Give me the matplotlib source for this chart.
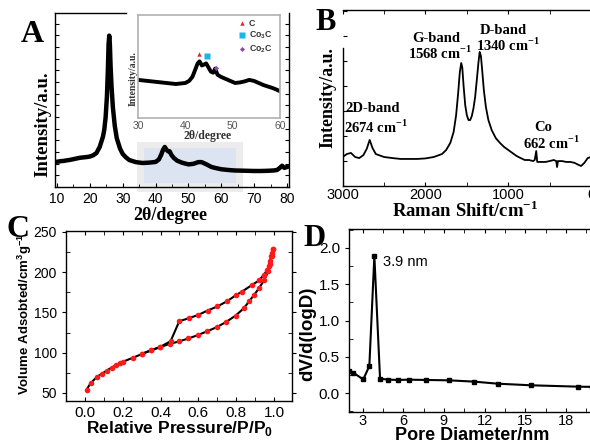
import matplotlib
matplotlib.use('Agg')
import matplotlib.pyplot as plt
import matplotlib.transforms as mtransforms
from matplotlib.patches import Rectangle
from matplotlib.ticker import MultipleLocator, NullFormatter

plt.rcParams['font.family'] = ['Liberation Sans', 'DejaVu Sans']
plt.rcParams['mathtext.fontset'] = 'custom'
plt.rcParams['mathtext.rm'] = 'Liberation Serif:bold'
plt.rcParams['mathtext.bf'] = 'Liberation Serif:bold'
plt.rcParams['mathtext.sf'] = 'Liberation Sans:bold'
plt.rcParams['axes.linewidth'] = 1.0

SERIF = 'Liberation Serif'
SANS = 'Liberation Sans'
W, H = 590, 442

# ---- A: XRD ----
xrd_2theta = [10, 11, 12, 13, 14, 15, 16, 17, 18, 19, 20, 21, 22, 23,
              23.5, 24, 24.4, 24.8, 25.2, 25.5, 25.7, 25.9, 26.1, 26.3, 26.6, 27.0, 27.6, 28.2, 28.7, 29.2,
              30, 31, 32, 34, 36, 38, 40,
              41, 41.7, 42.3, 42.8, 43.3, 43.8, 44.3, 44.8, 45.5, 46.5,
              48, 50, 51.5, 53, 54, 55.5, 57, 58.5, 60,
              62, 64, 66, 68, 70, 72, 74, 76,
              77, 77.8, 78.5, 79.2, 80]
xrd_int = [14.5, 14.8, 15.0, 15.3, 15.6, 16.0, 16.4, 16.8, 17.0, 17.2, 17.5, 18.2, 19.5, 23,
           26, 29, 33, 40, 52, 68, 82, 87, 82, 70, 58, 46, 35, 28, 25, 22,
           19, 17, 15.5, 14.3, 13.8, 14.0, 14.4,
           15.8, 18.5, 21.5, 23, 21.5, 20.5, 20.5, 18.5, 16.8, 15.2,
           14.0, 13.0, 13.3, 14.3, 14.3, 13.0, 11.5, 10.8, 10.2,
           9.8, 9.5, 9.4, 9.3, 9.2, 9.2, 9.3, 9.5,
           9.8, 11.0, 12.2, 11.0, 11.5]
zoom_outer = (34.3, 66.6)
zoom_inner = (36.5, 64.5)

ins_2theta = [30, 31, 32, 33, 34, 35, 36, 37, 38, 39, 40,
              40.8, 41.5, 42.1, 42.6, 43.0, 43.5, 44.0, 44.4, 44.9, 45.4, 45.9, 46.3, 46.8,
              47.5, 48.5, 49.5, 50.5, 51.5, 52.5, 53.5, 54.5, 55.5, 56.5, 57.5, 58.5, 59.3, 60]
ins_int = [37, 36.5, 36, 35.5, 35, 34.5, 34, 33.5, 33, 33.5, 34,
           36, 40, 47, 53, 55, 51, 52, 53, 49, 45, 44, 48, 42,
           40, 38, 36, 34, 34.5, 35.5, 37, 36, 34, 32, 30.5, 29, 27.5, 26]
phase_names = ['C', 'Co$_{\\mathsf{3}}$C', 'Co$_{\\mathsf{2}}$C']
phase_2theta = [42.9, 44.5, 46.4]
phase_int = [61.8, 60.2, 48.2]
phase_marker = ['^', 's', 'D']
phase_color = ['#e3262e', '#19b4ea', '#8a4fa8']
phase_size = [3.2, 4.2, 2.6]

# ---- B: Raman ----
raman_shift = [3000, 2950, 2900, 2850, 2800, 2750, 2710, 2674, 2640, 2600,
               2500, 2400, 2300, 2200, 2100, 2000, 1900, 1800, 1750, 1700,
               1660, 1630, 1605, 1585, 1568, 1555, 1540, 1520, 1500, 1480,
               1460, 1440, 1420, 1400, 1380, 1360, 1345, 1330, 1315, 1295,
               1270, 1240, 1200, 1150, 1100, 1050, 1000, 950, 900, 850,
               800, 750, 700, 680, 662, 650, 600, 550, 500, 450,
               420, 410, 400, 350, 300, 250, 200, 150, 120, 80, 40, 0]
raman_int = [16.3, 18, 18.6, 16.3, 15.7, 17.4, 20.9, 26, 21.4, 18,
             16.3, 15.7, 15.2, 15.2, 15.2, 15.5, 16.3, 18, 20.3, 24.3,
             30.5, 40, 52.7, 64.6, 69.7, 67, 57, 45.8, 40, 37.3,
             37.3, 39.6, 44, 50.4, 60, 70, 76, 73.7, 65.7, 54.4,
             44.7, 37.3, 31.6, 27, 24.3, 22, 20.3, 18.6, 16.9, 15.7,
             14.6, 14.6, 14, 14.6, 19.7, 13.5, 13.5, 13.5, 14, 14.6,
             14, 10.6, 14, 14, 13.5, 13.5, 13, 11.8, 11.2, 13, 15.7, 16.3]

# ---- C: N2 isotherm ----
ads_p = [0.009, 0.03, 0.065, 0.088, 0.115, 0.141, 0.164, 0.185, 0.203,
         0.252, 0.303, 0.348, 0.397, 0.45, 0.499,
         0.547, 0.596, 0.647, 0.697, 0.746, 0.797,
         0.84, 0.869, 0.896, 0.922, 0.948,
         0.97, 0.979, 0.988, 0.996]
ads_v = [54.2, 62, 70.3, 73.6, 77.8, 81.5, 84.4, 87.3, 89,
         93.5, 98.5, 102.7, 106.8, 111, 114,
         117.6, 121.7, 126.6, 131.6, 138, 146,
         155, 164, 172, 180.5, 190,
         201, 209.5, 220, 229]
des_p = [0.996, 0.99, 0.984, 0.979, 0.974, 0.965, 0.947, 0.921, 0.882, 0.829, 0.799,
         0.753, 0.70, 0.649, 0.60, 0.55, 0.499, 0.453, 0.397, 0.35, 0.30]
des_v = [229, 224, 220, 213.6, 208, 203, 197, 189.6, 183.8, 175.5, 171.4,
         164, 157.3, 152.3, 146.9, 142.8, 139, 114.2, 107, 103, 98.5]

# ---- D: pore size distribution ----
pore_d = [2.02, 2.32, 3.05, 3.5, 3.87, 4.29, 4.9, 5.64, 6.45, 7.68, 9.37, 11.24, 12.96, 15.4, 18.9, 19.9]
pore_dv = [0.306, 0.283, 0.19, 0.375, 1.886, 0.2, 0.187, 0.183, 0.187, 0.183, 0.178, 0.16, 0.132, 0.11, 0.091, 0.088]

fig = plt.figure(figsize=(W / 100, H / 100), dpi=100)


def box(l, t, r, b):
    return [l / W, 1 - b / H, (r - l) / W, (b - t) / H]


def ftext(x, y, s, **kw):
    return fig.text(x / W, 1 - y / H, s, ha='center', va='center', **kw)


# panel A
ax_a = fig.add_axes(box(55, 13, 289, 187))
ax_a.set_xlim(9.4, 80.6)
ax_a.set_ylim(0, 100)
trans = mtransforms.blended_transform_factory(ax_a.transData, ax_a.transAxes)
ax_a.add_patch(Rectangle((zoom_outer[0], -0.03), zoom_outer[1] - zoom_outer[0], 0.29,
                         transform=trans, color='#ececec', clip_on=False, zorder=0.5, lw=0))
ax_a.add_patch(Rectangle((zoom_inner[0], 0.023), zoom_inner[1] - zoom_inner[0], 0.201,
                         transform=trans, color='#dbe4f0', clip_on=False, zorder=0.6, lw=0))
ax_a.plot(xrd_2theta, xrd_int, color='k', lw=3.2, solid_joinstyle='round', zorder=2)
ax_a.xaxis.set_major_locator(MultipleLocator(10))
ax_a.xaxis.set_minor_locator(MultipleLocator(5))
ax_a.yaxis.set_major_locator(MultipleLocator(6.7))
ax_a.yaxis.set_major_formatter(NullFormatter())
ax_a.tick_params(which='both', direction='in', right=True, labelsize=10, length=3)
ax_a.tick_params(axis='x', which='minor', length=2.5)
ax_a.spines['top'].set_bounds(9.4, 31)

ax_i = fig.add_axes(box(138, 15, 280, 118))
ax_i.set_facecolor('white')
ax_i.plot(ins_2theta, ins_int, color='k', lw=2.8, solid_joinstyle='round')
for n, x, y, m, c, s in zip(phase_names, phase_2theta, phase_int, phase_marker, phase_color, phase_size):
    ax_i.plot(x, y, ls='none', marker=m, color=c, ms=s, mec='none', label=n)
ax_i.set_xlim(30, 60)
ax_i.set_ylim(0, 100)
ax_i.set_xticks([30, 40, 50, 60])
ax_i.set_yticks([])
ax_i.tick_params(labelsize=7.5, labelcolor='#555555', length=0, pad=2)
for s in ax_i.spines.values():
    s.set_color('#b0b0b0')
    s.set_linewidth(1.2)
leg = ax_i.legend(loc='upper left', bbox_to_anchor=(0.70, 0.98), frameon=False,
                  fontsize=6.3, handlelength=0.7, handletextpad=0.4, labelspacing=0.25,
                  borderaxespad=0.1, borderpad=0.1)
for t in leg.get_texts():
    t.set_fontweight('bold')
    t.set_color('#333333')
ftext(133, 79, 'Intensity/a.u.', rotation=90, fontsize=7, fontweight='bold', family=SERIF, color='#333333')
ftext(208, 136, '2θ/degree', fontsize=8.5, fontweight='bold', family=SERIF, color='#333333')

ftext(43, 124, 'Intensity/a.u.', rotation=90, fontsize=13.5, fontweight='bold', family=SERIF)
ftext(170, 215, '2θ/degree', fontsize=13, fontweight='bold', family=SERIF)
ftext(32, 34, 'A', fontsize=23, fontweight='bold', family=SERIF)

# panel B
ax_b = fig.add_axes(box(342.7, 9.7, 594, 185.7))
ax_b.plot(raman_shift, raman_int, color='k', lw=1.3)
ax_b.set_xlim(3000, -36)
ax_b.set_ylim(0, 100)
ax_b.xaxis.set_major_locator(MultipleLocator(1000))
ax_b.xaxis.set_minor_locator(MultipleLocator(500))
ax_b.yaxis.set_major_locator(MultipleLocator(14.2))
ax_b.yaxis.set_major_formatter(NullFormatter())
ax_b.tick_params(which='both', direction='in', top=True, labelsize=10.5, length=3, pad=2)
ax_b.spines['left'].set_bounds(0, 78)
ax_b.spines['right'].set_visible(False)
ftext(465, 211, 'Raman Shift/cm$^{-1}$', fontsize=13.5, fontweight='bold', family=SERIF)
ftext(328, 98, 'Intensity/a.u.', rotation=90, fontsize=13, fontweight='bold', family=SERIF)
ftext(326, 23, 'B', fontsize=22, fontweight='bold', family=SERIF)
band_kw = dict(fontsize=10.5, fontweight='bold', family=SERIF)
ftext(436, 38, 'G-band', **band_kw)
ftext(440, 53, '1568 cm$^{-1}$', **band_kw)
ftext(503, 30, 'D-band', **band_kw)
ftext(508, 45, '1340 cm$^{-1}$', **band_kw)
ftext(373, 108, '2D-band', **band_kw)
ftext(376, 127, '2674 cm$^{-1}$', **band_kw)
ftext(543, 127.5, 'Co', **band_kw)
ftext(551, 143, '662 cm$^{-1}$', **band_kw)

# panel C
ax_c = fig.add_axes(box(66, 231, 292, 401))
ax_c.plot(ads_p, ads_v, color='k', lw=1.5, marker='o', ms=3.0, mfc='#ff1a1a', mec='#ff1a1a')
ax_c.plot(des_p, des_v, color='k', lw=1.5, marker='o', ms=3.0, mfc='#ff1a1a', mec='#ff1a1a')
ax_c.set_xlim(-0.1, 1.095)
ax_c.set_ylim(40, 251)
ax_c.xaxis.set_major_locator(MultipleLocator(0.2))
ax_c.xaxis.set_minor_locator(MultipleLocator(0.1))
ax_c.yaxis.set_major_locator(MultipleLocator(50))
ax_c.yaxis.set_minor_locator(MultipleLocator(25))
ax_c.tick_params(which='both', direction='in', top=True, right=True, length=3)
ax_c.tick_params(axis='y', which='major', direction='out', labelsize=10)
ax_c.tick_params(axis='x', labelsize=11)
ax_c.xaxis.set_major_formatter(plt.FuncFormatter(lambda v, p: f'{v:.1f}'))
ftext(180, 428, 'Relative Pressure/P/P$_{\\mathsf{0}}$', fontsize=12.5, fontweight='bold', family=SANS)
ftext(25, 314, 'Volume Adsobted/cm$^{\\mathsf{3}}$g$^{\\mathsf{-1}}$', rotation=90, fontsize=9.5,
      fontweight='bold', family=SANS)
ftext(18, 229, 'C', fontsize=23, fontweight='bold', family=SERIF)

# panel D
ax_d = fig.add_axes(box(349, 229.3, 592, 411.7))
ax_d.plot(pore_d, pore_dv, color='k', lw=1.5, marker='s', ms=2.3)
ax_d.set_xlim(2, 19.92)
ax_d.set_ylim(-0.253, 2.253)
ax_d.xaxis.set_major_locator(MultipleLocator(3))
ax_d.xaxis.set_minor_locator(MultipleLocator(1.5))
ax_d.yaxis.set_major_locator(MultipleLocator(0.5))
ax_d.yaxis.set_minor_locator(MultipleLocator(0.25))
ax_d.tick_params(which='both', direction='in', top=True, labelsize=11, length=3)
ax_d.tick_params(axis='x', labelsize=10.5, pad=2)
ax_d.tick_params(axis='y', which='major', direction='out')
ax_d.spines['right'].set_visible(False)
ax_d.text(4.53, 1.81, '3.9 nm', fontsize=10.5, ha='left', va='center')
ftext(472, 435, 'Pore Diameter/nm', fontsize=13, fontweight='bold', family=SANS)
ftext(308, 334, 'dV/d(logD)', rotation=90, fontsize=13.5, fontweight='bold', family=SANS)
ftext(314, 238, 'D', fontsize=22, fontweight='bold', family=SERIF)

fig.savefig('out.png', dpi=100)
